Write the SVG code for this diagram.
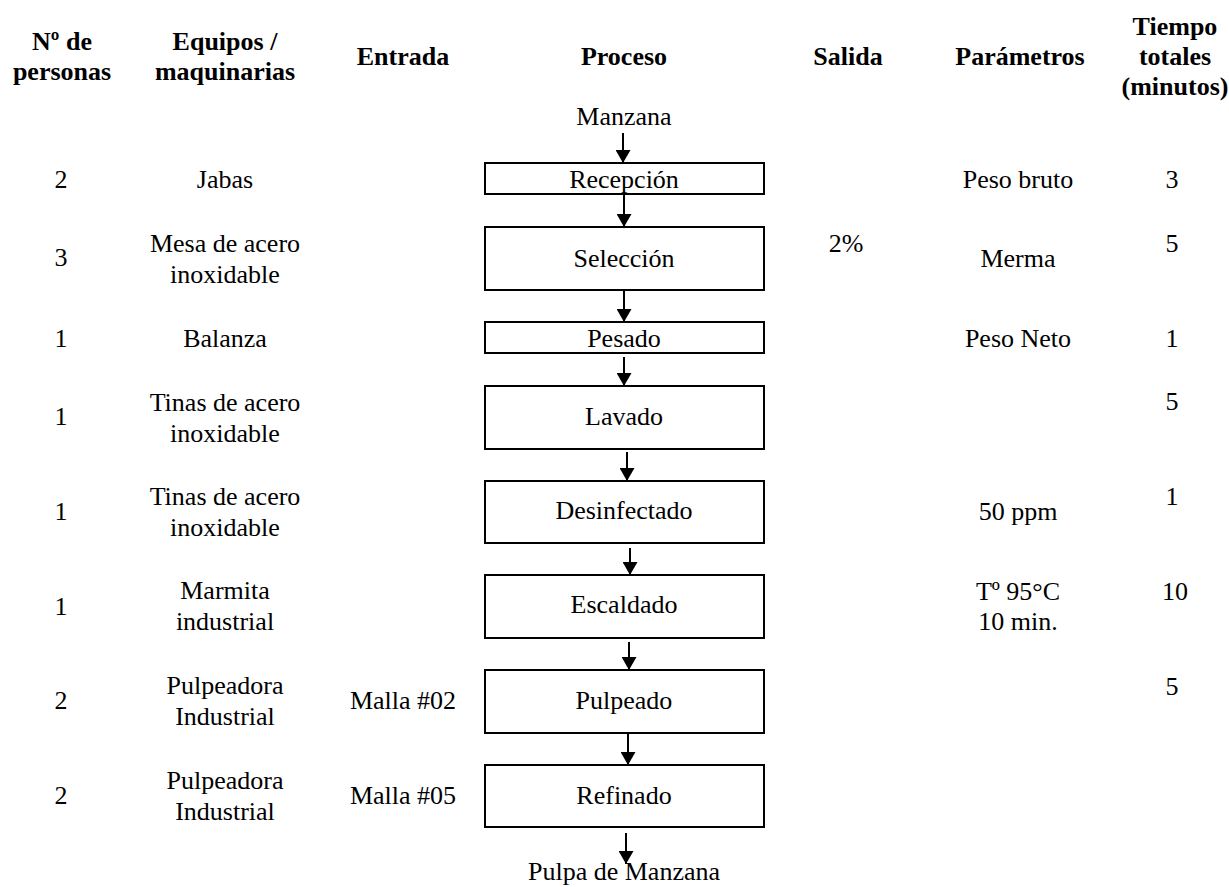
<svg xmlns="http://www.w3.org/2000/svg" width="1229" height="887" viewBox="0 0 1229 887">
<style>
text{font-family:"Liberation Serif",Tinos,"Times New Roman","DejaVu Serif",serif;font-size:26px;fill:#000;text-anchor:middle}
.h{font-weight:bold}
.box{fill:#fff;stroke:#000;stroke-width:2}
.conn line{stroke:#000;stroke-width:2;marker-end:url(#ah)}
</style>
<defs>
<marker id="ah" markerUnits="userSpaceOnUse" viewBox="0 0 13 15" markerWidth="13" markerHeight="15" refX="13" refY="7.5" orient="auto">
<path d="M0,0 L13,7.5 L0,15 z" fill="#000"/>
</marker>
</defs>
<rect width="1229" height="887" fill="#fff"/>
<g font-family="Liberation Serif, Times New Roman, serif">
<g id="headers">
<text class="h" x="62" y="50">Nº de</text>
<text class="h" x="62" y="80">personas</text>
<text class="h" x="225" y="50">Equipos /</text>
<text class="h" x="225" y="80">maquinarias</text>
<text class="h" x="403" y="65">Entrada</text>
<text class="h" x="624" y="65">Proceso</text>
<text class="h" x="848" y="65">Salida</text>
<text class="h" x="1020" y="65">Parámetros</text>
<text class="h" x="1175" y="35">Tiempo</text>
<text class="h" x="1175" y="65">totales</text>
<text class="h" x="1175" y="95">(minutos)</text>
</g>
<g id="conns" class="conn">
<line x1="623" y1="133" x2="623" y2="163"/>
<line x1="624" y1="195" x2="624" y2="227"/>
<line x1="624" y1="291" x2="624" y2="322"/>
<line x1="624" y1="357" x2="624" y2="386"/>
<line x1="627" y1="452" x2="627" y2="481"/>
<line x1="630" y1="548" x2="630" y2="575"/>
<line x1="629" y1="642" x2="629" y2="670"/>
<line x1="628" y1="734" x2="628" y2="765"/>
<line x1="626" y1="833" x2="626" y2="864"/>
</g>
<g id="start"><text x="624" y="125">Manzana</text></g>
<g id="recepcion">
<rect class="box" x="485" y="163" width="279" height="31"/>
<text x="624" y="188">Recepción</text>
</g>
<g id="seleccion">
<rect class="box" x="485" y="227" width="279" height="63"/>
<text x="624" y="267">Selección</text>
</g>
<g id="pesado">
<rect class="box" x="485" y="322" width="279" height="31"/>
<text x="624" y="347">Pesado</text>
</g>
<g id="lavado">
<rect class="box" x="485" y="386" width="279" height="63"/>
<text x="624" y="425">Lavado</text>
</g>
<g id="desinfectado">
<rect class="box" x="485" y="481" width="279" height="62"/>
<text x="624" y="519">Desinfectado</text>
</g>
<g id="escaldado">
<rect class="box" x="485" y="575" width="279" height="63"/>
<text x="624" y="613">Escaldado</text>
</g>
<g id="pulpeado">
<rect class="box" x="485" y="670" width="279" height="63"/>
<text x="624" y="709">Pulpeado</text>
</g>
<g id="refinado">
<rect class="box" x="485" y="765" width="279" height="62"/>
<text x="624" y="804">Refinado</text>
</g>
<g id="end"><text x="624" y="880">Pulpa de Manzana</text></g>
<g id="row-recepcion">
<text x="61" y="188">2</text>
<text x="225" y="188">Jabas</text>
<text x="1018" y="188">Peso bruto</text>
<text x="1172" y="188">3</text>
</g>
<g id="row-seleccion">
<text x="61" y="266">3</text>
<text x="225" y="252">Mesa de acero</text>
<text x="225" y="283">inoxidable</text>
<text x="846" y="252">2%</text>
<text x="1018" y="267">Merma</text>
<text x="1172" y="252">5</text>
</g>
<g id="row-pesado">
<text x="61" y="347">1</text>
<text x="225" y="347">Balanza</text>
<text x="1018" y="347">Peso Neto</text>
<text x="1172" y="347">1</text>
</g>
<g id="row-lavado">
<text x="61" y="425">1</text>
<text x="225" y="411">Tinas de acero</text>
<text x="225" y="442">inoxidable</text>
<text x="1172" y="410">5</text>
</g>
<g id="row-desinfectado">
<text x="61" y="520">1</text>
<text x="225" y="505">Tinas de acero</text>
<text x="225" y="536">inoxidable</text>
<text x="1018" y="520">50 ppm</text>
<text x="1172" y="505">1</text>
</g>
<g id="row-escaldado">
<text x="61" y="615">1</text>
<text x="225" y="599">Marmita</text>
<text x="225" y="630">industrial</text>
<text x="1018" y="600">Tº 95°C</text>
<text x="1018" y="630">10 min.</text>
<text x="1175" y="600">10</text>
</g>
<g id="row-pulpeado">
<text x="61" y="709">2</text>
<text x="225" y="694">Pulpeadora</text>
<text x="225" y="725">Industrial</text>
<text x="403" y="709">Malla #02</text>
<text x="1172" y="695">5</text>
</g>
<g id="row-refinado">
<text x="61" y="804">2</text>
<text x="225" y="789">Pulpeadora</text>
<text x="225" y="820">Industrial</text>
<text x="403" y="804">Malla #05</text>
</g>
</g>
</svg>
